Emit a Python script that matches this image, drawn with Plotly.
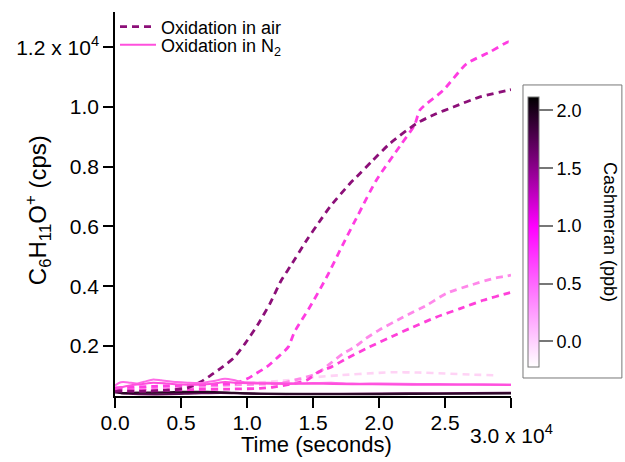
import plotly.graph_objects as go

# ---------------- data (time in 10^4 s, signal in 10^4 cps) ----------------
air1_t = [0, 0.2, 0.4, 0.55, 0.65, 0.72, 0.8, 0.9, 0.985, 1.08, 1.174, 1.26, 1.326, 1.452, 1.566, 1.629, 1.78, 1.83, 1.95, 2.083, 2.285, 2.42, 2.563, 2.765, 2.98, 3.0]
air1_y = [0.05, 0.048, 0.052, 0.06, 0.08, 0.1, 0.125, 0.16, 0.208, 0.27, 0.342, 0.42, 0.465, 0.554, 0.627, 0.666, 0.744, 0.766, 0.82, 0.878, 0.945, 0.975, 1.0, 1.034, 1.056, 1.058]

air2_t = [0, 0.3, 0.6, 0.8, 0.9, 1.0, 1.07, 1.15, 1.25, 1.313, 1.36, 1.477, 1.604, 1.73, 1.843, 1.98, 2.16, 2.27, 2.31, 2.487, 2.664, 2.84, 2.98, 3.0]
air2_y = [0.06, 0.065, 0.07, 0.072, 0.074, 0.09, 0.108, 0.13, 0.169, 0.197, 0.247, 0.331, 0.431, 0.543, 0.64, 0.755, 0.87, 0.94, 0.99, 1.056, 1.145, 1.184, 1.218, 1.215]

air3_t = [0, 0.3, 0.6, 0.9, 1.1, 1.25, 1.4, 1.53, 1.63, 1.73, 1.818, 1.9, 2.0, 2.184, 2.36, 2.51, 2.69, 2.866, 2.955, 3.0]
air3_y = [0.055, 0.058, 0.062, 0.07, 0.072, 0.075, 0.09, 0.108, 0.141, 0.175, 0.197, 0.225, 0.253, 0.297, 0.336, 0.376, 0.403, 0.426, 0.433, 0.437]

air4_t = [0, 0.3, 0.6, 0.9, 1.1, 1.2, 1.3, 1.45, 1.54, 1.64, 1.755, 1.93, 2.12, 2.25, 2.437, 2.614, 2.79, 2.98, 3.0]
air4_y = [0.05, 0.052, 0.054, 0.056, 0.058, 0.062, 0.07, 0.085, 0.113, 0.13, 0.158, 0.197, 0.236, 0.262, 0.297, 0.325, 0.353, 0.377, 0.379]

air5_t = [0.0, 0.5, 1.0, 1.3, 1.5, 1.7, 2.0, 2.1, 2.3, 2.5, 2.7, 2.88]
air5_y = [0.06, 0.065, 0.075, 0.085, 0.095, 0.102, 0.11, 0.112, 0.111, 0.108, 0.104, 0.102]

n2a_t = [0, 0.03, 0.06, 0.1, 0.164, 0.22, 0.29, 0.35, 0.467, 0.55, 0.644, 0.75, 0.833, 0.9, 0.97, 1.1, 1.23, 1.4, 1.64, 1.8, 2.0, 2.3, 2.6, 2.8, 3.0]
n2a_y = [0.068, 0.076, 0.079, 0.078, 0.074, 0.08, 0.088, 0.085, 0.079, 0.077, 0.076, 0.083, 0.09, 0.086, 0.079, 0.077, 0.076, 0.075, 0.077, 0.074, 0.074, 0.073, 0.072, 0.072, 0.071]

n2b_t = [0, 0.05, 0.114, 0.2, 0.29, 0.4, 0.5, 0.644, 0.75, 0.833, 0.95, 1.1, 1.3, 1.5, 1.8, 2.1, 2.4, 2.7, 3.0]
n2b_y = [0.055, 0.062, 0.068, 0.072, 0.077, 0.074, 0.071, 0.07, 0.074, 0.079, 0.076, 0.074, 0.073, 0.074, 0.072, 0.071, 0.070, 0.070, 0.069]

n2c_t = [0, 0.05, 0.1, 0.3, 0.5, 0.7, 0.9, 1.1, 1.5, 2.0, 2.5, 3.0]
n2c_y = [0.05, 0.042, 0.043, 0.044, 0.046, 0.046, 0.043, 0.04, 0.039, 0.039, 0.04, 0.041]

n2d_t = [0, 0.1, 0.3, 0.6, 0.8, 1.0, 1.3, 1.7, 2.2, 2.7, 3.0]
n2d_y = [0.045, 0.04, 0.038, 0.041, 0.043, 0.041, 0.039, 0.04, 0.041, 0.042, 0.043]

x_tickvals = [0, 0.5, 1.0, 1.5, 2.0, 2.5, 3.0]
x_ticktext = ["0.0", "0.5", "1.0", "1.5", "2.0", "2.5", ""]
x_last_label = "3.0 x 10<sup>4</sup>"
y_tickvals = [0.2, 0.4, 0.6, 0.8, 1.0, 1.2]
y_ticktext = ["0.2", "0.4", "0.6", "0.8", "1.0", "1.2 x 10<sup>4</sup>"]
cb_tickvals = [0, 0.5, 1.0, 1.5, 2.0]
cb_ticktext = ["0.0", "0.5", "1.0", "1.5", "2.0"]
cb_range = [-0.22, 2.12]

FONT = "Liberation Sans, Arial, sans-serif"

fig = go.Figure()

# series: (t, y, colour, dash, width, name, legend)
series = [
    (n2d_t, n2d_y, "#5c0a52", "solid", 2.2, None, None),
    (n2c_t, n2c_y, "#2a0826", "solid", 2.2, None, None),
    (air5_t, air5_y, "#ffd3f5", "7px,5px", 2.6, None, None),
    (air3_t, air3_y, "#ff88ea", "7px,5px", 2.8, None, None),
    (air4_t, air4_y, "#ff40da", "7px,5px", 2.8, None, None),
    (air2_t, air2_y, "#ff3de2", "7px,5px", 2.8, None, None),
    (air1_t, air1_y, "#8c0f78", "7px,5px", 2.8, "Oxidation in air", "legend"),
    (n2a_t, n2a_y, "#ff6ae6", "solid", 2.0, None, None),
    (n2b_t, n2b_y, "#ff50dd", "solid", 2.0, "Oxidation in N<sub>2</sub>", "legend2"),
]
for t, y, c, d, w, name, lg in series:
    fig.add_trace(go.Scatter(x=t, y=y, mode="lines", name=name, showlegend=lg is not None,
                             legend=lg or "legend",
                             line=dict(color=c, dash=d, width=w, shape="spline", smoothing=0.6),
                             hoverinfo="skip"))

# colour bar
fig.add_trace(go.Scatter(
    x=[None], y=[None], mode="markers", showlegend=False, hoverinfo="skip",
    marker=dict(color=[0], cmin=cb_range[0], cmax=cb_range[1],
                colorscale=[[0, "#ffffff"], [0.521, "#ff00ff"], [1, "#000000"]],
                showscale=True,
                colorbar=dict(x=1.0303, xanchor="left", xpad=5, y=0.428, yanchor="middle",
                              len=294, lenmode="pixels", ypad=12, thickness=11,
                              outlinewidth=1, outlinecolor="#777777", borderwidth=0,
                              ticks="outside", ticklen=14, tickwidth=1.5, tickcolor="#777777",
                              tickvals=cb_tickvals, ticktext=cb_ticktext,
                              tickfont=dict(family=FONT, size=18, color="black"),
                              title=dict(text=""))),
))

legend_style = dict(x=0.0, xanchor="left", yanchor="middle", bgcolor="rgba(0,0,0,0)",
                    font=dict(family=FONT, size=18), itemwidth=36)
fig.update_layout(
    width=625, height=462,
    margin=dict(l=115, r=114, t=12, b=66, autoexpand=False),
    paper_bgcolor="white", plot_bgcolor="white",
    font=dict(family=FONT, color="black", size=21),
    legend=dict(y=0.961, **legend_style),
    legend2=dict(y=0.914, **legend_style),
    showlegend=True,
)
fig.update_xaxes(range=[0, 3.0], showgrid=False, zeroline=False, showline=True,
                 linecolor="black", linewidth=1.5, ticks="outside", ticklen=10,
                 tickwidth=1.5, tickcolor="black", tickvals=x_tickvals, ticktext=x_ticktext,
                 tickfont=dict(size=21), automargin=False, ticklabelstandoff=-3)
fig.update_yaxes(range=[0.0325, 1.318], showgrid=False, zeroline=False, showline=True,
                 linecolor="black", linewidth=1.5, ticks="outside", ticklen=10,
                 tickwidth=1.5, tickcolor="black", tickvals=y_tickvals, ticktext=y_ticktext,
                 tickfont=dict(size=21), automargin=False)

fig.add_annotation(text=x_last_label, xref="x", yref="paper", x=3.0, y=-0.1,
                   xanchor="center", yanchor="middle", showarrow=False, font=dict(size=21))
fig.add_annotation(text="C<sub>6</sub>H<sub>11</sub>O<sup>+</sup> (cps)", textangle=-90,
                   xref="paper", yref="paper", x=-0.1944, y=0.484,
                   xanchor="center", yanchor="middle", showarrow=False, font=dict(size=24))
fig.add_annotation(text="Time (seconds)", xref="paper", yref="paper", x=0.51, y=-0.125,
                   xanchor="center", yanchor="middle", showarrow=False, font=dict(size=22))
fig.add_annotation(text="Cashmeran (ppb)", textangle=90, xref="paper", yref="paper",
                   x=1.25, y=0.427, xanchor="center", yanchor="middle", showarrow=False,
                   font=dict(size=18))
fig.add_shape(type="rect", xref="paper", yref="paper", x0=1.0303, x1=1.28, y0=0.0469, y1=0.81,
              line=dict(color="#777777", width=1))

fig.write_html("out.html", config={"displayModeBar": False},
               post_script="document.body.style.margin='0px';")
